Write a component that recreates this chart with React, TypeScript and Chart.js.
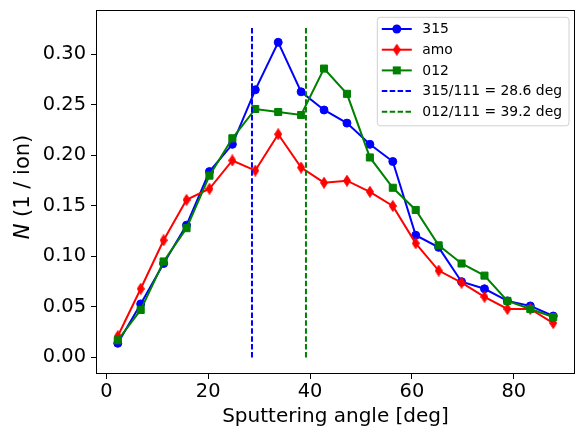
import React, { useEffect, useRef } from 'react';
import { Chart, registerables } from 'chart.js';

Chart.register(...registerables);

// ---- data ----
const angles = [2.25, 6.75, 11.25, 15.75, 20.25, 24.75, 29.25, 33.75, 38.25, 42.75, 47.25, 51.75, 56.25, 60.75, 65.25, 69.75, 74.25, 78.75, 83.25, 87.75];
const n315 = [0.014, 0.053, 0.093, 0.131, 0.184, 0.211, 0.265, 0.312, 0.263, 0.245, 0.232, 0.211, 0.194, 0.121, 0.109, 0.075, 0.068, 0.056, 0.051, 0.041];
const nAmo = [0.021, 0.068, 0.116, 0.156, 0.167, 0.195, 0.185, 0.221, 0.188, 0.173, 0.175, 0.164, 0.150, 0.113, 0.086, 0.074, 0.060, 0.048, 0.048, 0.034];
const n012 = [0.017, 0.047, 0.095, 0.128, 0.180, 0.217, 0.246, 0.243, 0.240, 0.286, 0.261, 0.198, 0.168, 0.146, 0.111, 0.093, 0.081, 0.056, 0.048, 0.040];
const vline315 = 28.6;
const vline012 = 39.2;
const vlineRange = [0, 0.3276];
const xTicks = [0, 20, 40, 60, 80];
const yTicks = [0, 0.05, 0.1, 0.15, 0.2, 0.25, 0.3];
const seriesLabels = ['315', 'amo', '012', '315/111 = 28.6 deg', '012/111 = 39.2 deg'];

const BLUE = '#0000ff';
const RED = '#ff0000';
const GREEN = '#008000';
const FONT = '"DejaVu Sans", sans-serif';

function makeThinDiamond(color: string, w: number, h: number) {
  const c = document.createElement('canvas');
  c.width = w;
  c.height = h;
  const g = c.getContext('2d')!;
  g.fillStyle = color;
  g.strokeStyle = color;
  g.lineWidth = 1;
  g.beginPath();
  g.moveTo(w / 2, 0.5);
  g.lineTo(w - 0.5, h / 2);
  g.lineTo(w / 2, h - 0.5);
  g.lineTo(0.5, h / 2);
  g.closePath();
  g.fill();
  g.stroke();
  return c;
}

const zeroPad = (s: any) => {
  s.paddingTop = 0;
  s.paddingBottom = 0;
  s.paddingLeft = 0;
  s.paddingRight = 0;
};

const legendPlugin = {
  id: 'mplDecor',
  afterDraw(chart: any) {
    const { ctx, chartArea: a } = chart;
    ctx.save();
    // frame
    ctx.strokeStyle = '#000';
    ctx.lineWidth = 1;
    ctx.strokeRect(a.left + 0.5, a.top + 0.5, a.right - a.left - 1, a.bottom - a.top - 1);

    // y title with italic N
    ctx.save();
    ctx.translate(a.left - 72, (a.top + a.bottom) / 2 - 5);
    ctx.rotate(-Math.PI / 2);
    ctx.fillStyle = '#000';
    ctx.textBaseline = 'middle';
    const fs = 21;
    ctx.font = `italic ${fs}px ${FONT}`;
    const p1 = 'N';
    const w1 = ctx.measureText(p1).width;
    ctx.font = `${fs}px ${FONT}`;
    const p2 = ' (1 / ion)';
    const w2 = ctx.measureText(p2).width;
    const total = w1 + w2;
    ctx.font = `italic ${fs}px ${FONT}`;
    ctx.textAlign = 'left';
    ctx.fillText(p1, -total / 2, 0);
    ctx.font = `${fs}px ${FONT}`;
    ctx.fillText(p2, -total / 2 + w1, 0);
    ctx.restore();

    // legend
    const lfs = 13.9;
    ctx.font = `${lfs}px ${FONT}`;
    const ds = chart.data.datasets;
    let maxW = 0;
    ds.forEach((d: any) => { maxW = Math.max(maxW, ctx.measureText(d.label).width); });
    const boxW = 45 + maxW + 7;
    const rowH = 20.7;
    const boxH = 108.5;
    const bx = a.right - 6 - boxW;
    const by = a.top + 7.3;
    const r = 3;
    ctx.beginPath();
    ctx.moveTo(bx + r, by);
    ctx.lineTo(bx + boxW - r, by);
    ctx.arcTo(bx + boxW, by, bx + boxW, by + r, r);
    ctx.lineTo(bx + boxW, by + boxH - r);
    ctx.arcTo(bx + boxW, by + boxH, bx + boxW - r, by + boxH, r);
    ctx.lineTo(bx + r, by + boxH);
    ctx.arcTo(bx, by + boxH, bx, by + boxH - r, r);
    ctx.lineTo(bx, by + r);
    ctx.arcTo(bx, by, bx + r, by, r);
    ctx.closePath();
    ctx.fillStyle = 'rgba(255,255,255,0.8)';
    ctx.fill();
    ctx.strokeStyle = '#d0d0d0';
    ctx.lineWidth = 1;
    ctx.stroke();

    ds.forEach((d: any, i: number) => {
      const cy = by + 11.7 + i * rowH;
      const hx0 = bx + 4.5;
      const hx1 = bx + 34.5;
      ctx.strokeStyle = d.borderColor;
      ctx.lineWidth = 2;
      ctx.setLineDash(d.borderDash || []);
      ctx.beginPath();
      ctx.moveTo(hx0, cy);
      ctx.lineTo(hx1, cy);
      ctx.stroke();
      ctx.setLineDash([]);
      const mx = (hx0 + hx1) / 2;
      ctx.fillStyle = d.borderColor;
      if (d.pointStyle === 'circle') {
        ctx.beginPath();
        ctx.arc(mx, cy, 4.5, 0, Math.PI * 2);
        ctx.fill();
      } else if (d.pointStyle === 'rect') {
        ctx.fillRect(mx - 4, cy - 4, 8, 8);
      } else if (d.pointStyle instanceof HTMLCanvasElement) {
        const im = d.pointStyle;
        ctx.drawImage(im, mx - im.width / 2, cy - im.height / 2);
      }
      ctx.fillStyle = '#000';
      ctx.font = `${lfs}px ${FONT}`;
      ctx.textAlign = 'left';
      ctx.textBaseline = 'middle';
      ctx.fillText(d.label, bx + 45, cy + 0.5);
    });
    ctx.restore();
  },
};

export default function App() {
  const ref = useRef<HTMLCanvasElement>(null);
  useEffect(() => {
    if (!ref.current) return;
    const diamond = makeThinDiamond(RED, 8, 12);
    const toPts = (ys: number[]) => angles.map((x, i) => ({ x, y: ys[i] }));
    const chart = new Chart(ref.current, {
      type: 'line',
      data: {
        datasets: [
          { label: seriesLabels[0], data: toPts(n315), borderColor: BLUE, backgroundColor: BLUE, borderWidth: 2, pointStyle: 'circle', pointRadius: 4, pointBorderWidth: 1, order: 5 },
          { label: seriesLabels[1], data: toPts(nAmo), borderColor: RED, backgroundColor: RED, borderWidth: 2, pointStyle: diamond as any, pointRadius: 5, order: 4 },
          { label: seriesLabels[2], data: toPts(n012), borderColor: GREEN, backgroundColor: GREEN, borderWidth: 2, pointStyle: 'rect', pointRadius: 5, pointBorderWidth: 1, order: 3 },
          { label: seriesLabels[3], data: vlineRange.map((y) => ({ x: vline315, y })), borderColor: BLUE, borderWidth: 2, borderDash: [5.5, 2.4], pointRadius: 0, order: 2 },
          { label: seriesLabels[4], data: vlineRange.map((y) => ({ x: vline012, y })), borderColor: GREEN, borderWidth: 2, borderDash: [5.5, 2.4], pointRadius: 0, order: 1 },
        ] as any,
      },
      options: {
        responsive: false,
        animation: false,
        devicePixelRatio: 1,
        layout: { autoPadding: false, padding: { top: 10, right: 2, left: 0, bottom: 0 } },
        elements: { line: { tension: 0 } },
        plugins: { legend: { display: false }, tooltip: { enabled: false } },
        scales: {
          x: {
            type: 'linear',
            min: -2.025,
            max: 92.025,
            afterBuildTicks: (s: any) => { s.ticks = xTicks.map((v) => ({ value: v })); },
            afterFit: (s: any) => { s.height = 55; zeroPad(s); },
            grid: { display: true, drawOnChartArea: false, drawTicks: true, tickLength: 5, tickColor: '#000', tickWidth: 1 },
            border: { display: false },
            ticks: { color: '#000', font: { family: FONT, size: 19.4 }, padding: 1, maxRotation: 0, callback: (v: any) => String(v) },
            title: { display: true, text: 'Sputtering angle [deg]', color: '#000', font: { family: FONT, size: 20 }, padding: { top: 0, bottom: 0 } },
          },
          y: {
            type: 'linear',
            min: -0.0164,
            max: 0.344,
            afterBuildTicks: (s: any) => { s.ticks = yTicks.map((v) => ({ value: v })); },
            afterFit: (s: any) => { s.width = 96; zeroPad(s); },
            grid: { display: true, drawOnChartArea: false, drawTicks: true, tickLength: 5, tickColor: '#000', tickWidth: 1 },
            border: { display: false },
            ticks: { color: '#000', font: { family: FONT, size: 19.4 }, padding: 5, callback: (v: any) => Number(v).toFixed(2) },
          },
        },
      },
      plugins: [legendPlugin],
    });
    return () => chart.destroy();
  }, []);
  return (
    <div style={{ position: 'absolute', left: 0, top: 0, width: 577, height: 429 }}>
      <canvas ref={ref} width={577} height={429} style={{ width: 577, height: 429, display: 'block' }} />
    </div>
  );
}
